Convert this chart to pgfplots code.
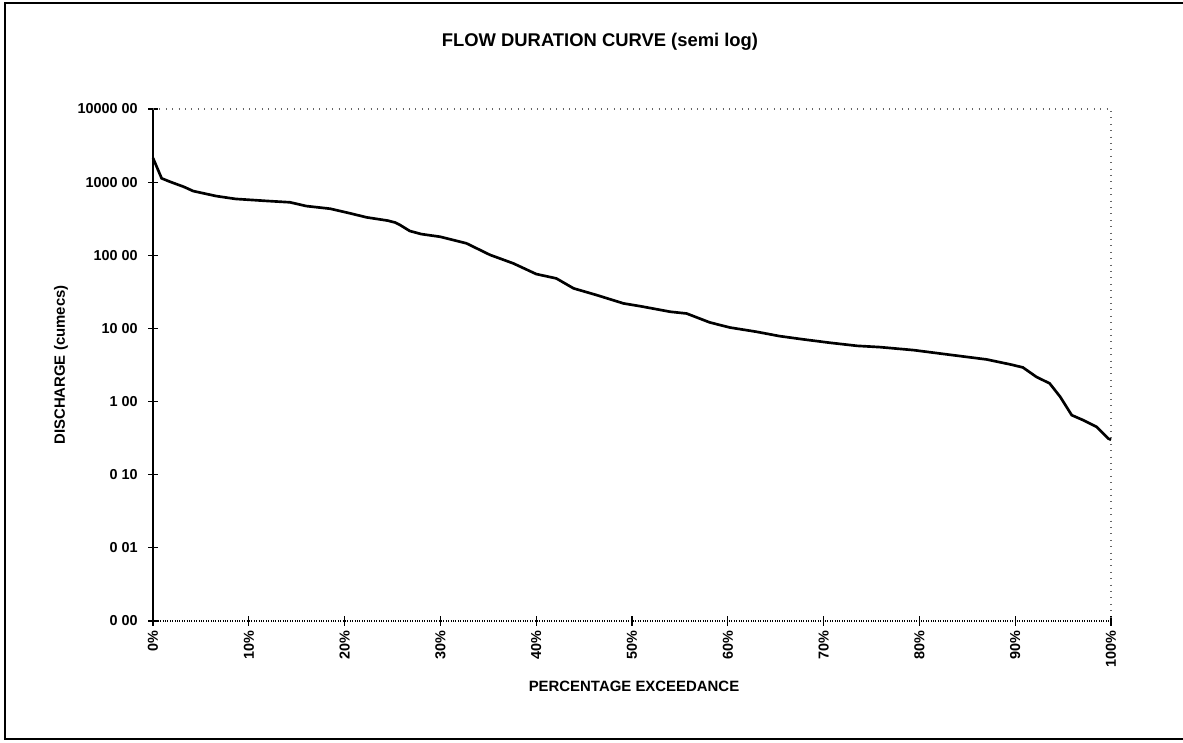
\documentclass[border=0pt]{standalone}
\usepackage{fontspec}
\setmainfont{Liberation Sans}
\usepackage{pgfplots}
\pgfplotsset{compat=1.18}
\begin{document}
\begin{tikzpicture}[x=0.75pt,y=0.75pt]
\path[use as bounding box] (0,0) rectangle (1183,743);
\draw[line width=0.9pt] (1183,740) -- (5,740) -- (5,4) -- (1183,4);
\begin{axis}[
  at={(114.75pt,91.5pt)}, anchor=south west,
  scale only axis, width=718.5pt, height=384pt,
  xmin=0, xmax=100, ymin=0.001, ymax=10000, ymode=log,
  axis x line*=bottom, axis y line*=left,
  x axis line style={-, line width=0.8pt, densely dotted},
  y axis line style={-, line width=0.9pt},
  xtick={0,10,...,100},
  xticklabels={0\%,10\%,20\%,30\%,40\%,50\%,60\%,70\%,80\%,90\%,100\%},
  ytick={0.001,0.01,0.1,1,10,100,1000,10000},
  yticklabels={0 00,0 01,0 10,1 00,10 00,100 00,1000 00,10000 00},
  yminorticks=false, xminorticks=false,
  tick align=center, major tick length=7pt,
  tick style={black, line width=0.8pt},
  xticklabel style={rotate=90, anchor=east, font=\bfseries\fontsize{10.8}{12}\selectfont},
  yticklabel style={anchor=east, xshift=-4.5pt, font=\bfseries\fontsize{10.8}{12}\selectfont},
  clip=false,
]
\addplot[black, line width=2pt] coordinates {
(0,2140) (0.9,1127) (1.8,1010) (3.2,865) (4.2,755) (6.6,645) (8.6,590)
(11.9,553) (14.3,530) (16.0,471) (18.5,433) (20.6,374) (22.3,330) (24.5,298)
(25.3,280) (25.8,259) (26.8,215) (28.0,195) (30.0,179) (32.7,146) (35.2,101) (37.6,77.6) (40.0,55.4)
(42.1,48.3) (43.9,35.3) (46.3,28.6) (49.1,22) (50.8,20.2) (54.0,16.9) (55.7,16.0)
(58.1,12.1) (60.2,10.3) (63.0,9.0) (65.4,7.85) (67.9,7.08) (70.7,6.36) (73.5,5.78)
(75.9,5.55) (79.4,5.05) (83.5,4.31) (87.0,3.77) (89.5,3.22) (90.8,2.93) (92.2,2.18)
(93.6,1.77) (94.7,1.16) (95.9,0.652) (97.1,0.557) (98.5,0.451) (99.7,0.313) (100,0.30)
};
\draw[black!60, loosely dotted, line width=0.8pt] (rel axis cs:0,1) -- (rel axis cs:1,1) -- (rel axis cs:1,0);
\end{axis}
\node[font=\bfseries\fontsize{13.8}{16}\selectfont] at (600,701) {FLOW DURATION CURVE (semi log)};
\node[font=\bfseries\fontsize{11.2}{13}\selectfont] at (634,57) {PERCENTAGE EXCEEDANCE};
\node[font=\bfseries\fontsize{11.2}{13}\selectfont, rotate=90] at (61,378) {DISCHARGE (cumecs)};
\end{tikzpicture}
\end{document}
